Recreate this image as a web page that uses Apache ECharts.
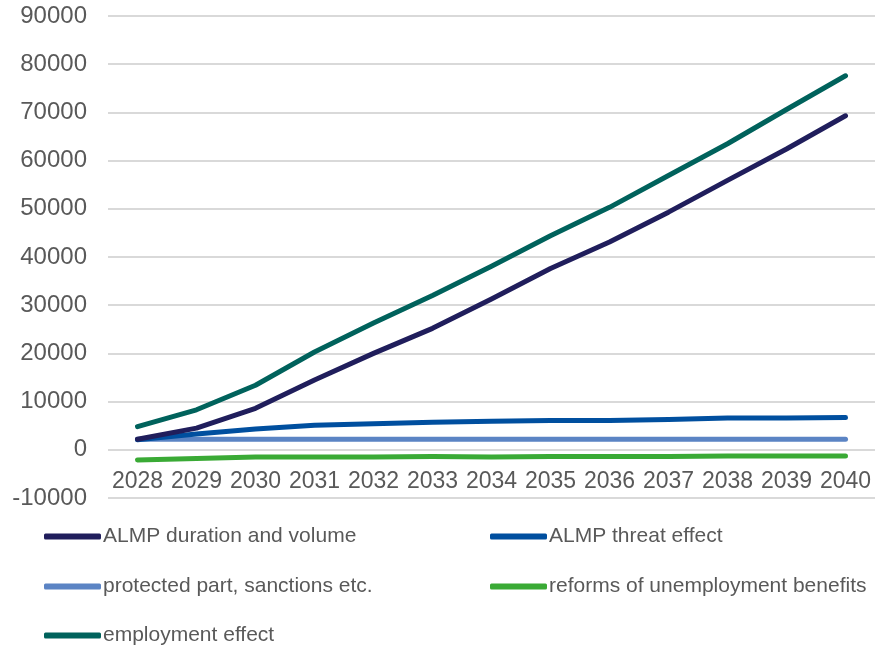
<!DOCTYPE html>
<html>
<head>
<meta charset="utf-8">
<script src="https://cdn.jsdelivr.net/npm/echarts@6/dist/echarts.min.js"></script>
<style>
  html, body { margin: 0; padding: 0; background: #ffffff; }
  #chart { width: 875px; height: 646px; }
</style>
</head>
<body>
<div id="chart"></div>
<script>
// Years on the category axis
const years = ['2028', '2029', '2030', '2031', '2032', '2033', '2034', '2035', '2036', '2037', '2038', '2039', '2040'];

// Series values per year
const almpDuration = [2200, 4500, 8600, 14500, 20000, 25200, 31300, 37600, 43100, 49300, 55900, 62400, 69300];
const almpThreat = [2100, 3300, 4300, 5100, 5400, 5700, 5900, 6100, 6100, 6300, 6600, 6600, 6700];
const protectedPart = [2200, 2200, 2200, 2200, 2200, 2200, 2200, 2200, 2200, 2200, 2200, 2200, 2200];
const benefitReforms = [-2100, -1800, -1500, -1500, -1500, -1400, -1500, -1400, -1400, -1400, -1300, -1300, -1300];
const employmentEffect = [4800, 8300, 13400, 20300, 26300, 32000, 38100, 44400, 50300, 56900, 63500, 70600, 77600];

// Value axis range
const yMin = -10000;
const yMax = 90000;
const yStep = 10000;

const seriesDefs = [
  { name: 'ALMP duration and volume', data: almpDuration, color: '#201e5c' },
  { name: 'ALMP threat effect', data: almpThreat, color: '#004f9f' },
  { name: 'protected part, sanctions etc.', data: protectedPart, color: '#5b84c4' },
  { name: 'reforms of unemployment benefits', data: benefitReforms, color: '#3aaa35' },
  { name: 'employment effect', data: employmentEffect, color: '#00625c' }
];

// Legend slots: [left, top] of each entry, same order as seriesDefs
const legendSlots = [[44, 526], [490, 526], [44, 576], [490, 576], [44, 625]];

const chart = echarts.init(document.getElementById('chart'), null, { renderer: 'canvas' });

const labelFont = '"Liberation Sans", Arial, sans-serif';

const legendText = {
  color: '#595959',
  fontFamily: labelFont,
  fontSize: 21,
  padding: [0, 0, 0, -3]
};

chart.setOption({
  animation: false,
  backgroundColor: '#ffffff',
  grid: { left: 108, right: -1, top: 16, bottom: 148, containLabel: false },
  legend: seriesDefs.map((s, i) => ({
    left: legendSlots[i][0],
    top: legendSlots[i][1],
    padding: 0,
    itemWidth: 57,
    itemHeight: 6,
    icon: 'roundRect',
    textStyle: legendText,
    data: [s.name]
  })),
  xAxis: {
    type: 'category',
    data: years,
    boundaryGap: true,
    axisLine: { show: false },
    axisTick: { show: false },
    axisLabel: {
      color: '#595959',
      fontFamily: labelFont,
      fontSize: 23,
      margin: -28,
      verticalAlign: 'top',
      interval: 0
    },
    splitLine: { show: false }
  },
  yAxis: {
    type: 'value',
    min: yMin,
    max: yMax,
    interval: yStep,
    axisLine: { show: false },
    axisTick: { show: false },
    axisLabel: {
      color: '#595959',
      fontFamily: labelFont,
      fontSize: 24,
      margin: 21,
      formatter: v => String(v)
    },
    splitLine: { show: true, lineStyle: { color: '#d9d9d9', width: 2 } }
  },
  series: seriesDefs.map(s => ({
    name: s.name,
    type: 'line',
    data: s.data,
    symbol: 'none',
    color: s.color,
    lineStyle: { color: s.color, width: 5, cap: 'round', join: 'round' },
    z: 2
  })).reverse()
});
</script>
</body>
</html>
